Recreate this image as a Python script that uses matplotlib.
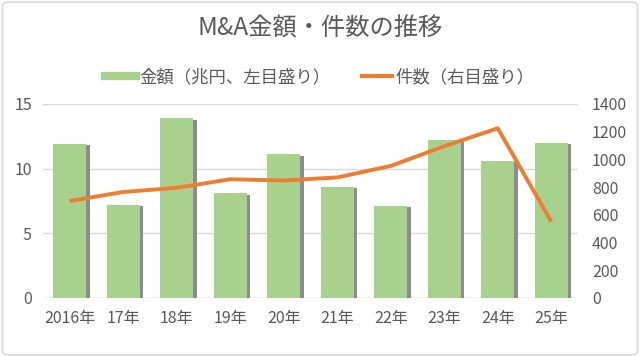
import matplotlib.pyplot as plt
from matplotlib.lines import Line2D
from matplotlib.patches import FancyBboxPatch
import numpy as np

plt.rcParams['font.family'] = ['Noto Sans CJK JP', 'DejaVu Sans']

years = ['2016年', '17年', '18年', '19年', '20年', '21年', '22年', '23年', '24年', '25年']
amount = [11.9, 7.2, 13.9, 8.1, 11.1, 8.6, 7.1, 12.2, 10.6, 12.0]   # 兆円 (left axis)
count = [700, 765, 795, 857, 848, 870, 953, 1095, 1225, 551]        # 件数 (right axis)

green = '#A9D18E'
orange = '#ED7D31'
txt = '#595959'

fig = plt.figure(figsize=(6.4, 3.57), dpi=100)
ax = fig.add_axes([43 / 640, 1 - 298 / 357, 535 / 640, 194 / 357])
ax2 = ax.twinx()

x = np.arange(len(years))
w = 0.62
# bar shadow
ax.bar(x + 0.06, [v - 0.1 for v in amount], w, bottom=0, color='#8C8C8C', zorder=2)
ax.bar(x, amount, w, color=green, zorder=3)
ax2.plot(x, count, color=orange, lw=2.8, solid_capstyle='butt', zorder=4)

ax.set_xlim(-0.5, len(years) - 0.5)
ax.set_ylim(0, 15)
ax2.set_ylim(0, 1400)
ax.set_yticks([0, 5, 10, 15])
ax2.set_yticks(range(0, 1401, 200))
ax.set_xticks(x)
ax.set_xticklabels(years)
ax.yaxis.grid(True, color='#D9D9D9', lw=1, zorder=0)
ax.set_axisbelow(True)
for a in (ax, ax2):
    for s in a.spines.values():
        s.set_visible(False)
    a.tick_params(length=0, labelsize=11.5, colors=txt)
ax.tick_params(axis='x', pad=9)
ax.tick_params(axis='y', pad=8)
ax2.tick_params(axis='y', pad=10)
ax.axhline(0, color='#D9D9D9', lw=1, zorder=1)

fig.text(0.5, 1 - 29 / 357, 'M&A金額・件数の推移', ha='center', va='center',
         fontsize=17.5, color=txt)

handles = [Line2D([], [], color=green, lw=6),
           Line2D([], [], color=orange, lw=3)]
fig.legend(handles, ['金額（兆円、左目盛り）', '件数（右目盛り）'], ncol=2,
           loc='center', bbox_to_anchor=(0.5, 1 - 77 / 357), frameon=False,
           fontsize=12.5, labelcolor=txt, handlelength=1.75, handletextpad=0.2,
           columnspacing=1.8)

fig.patches.append(FancyBboxPatch((0.004, 0.006), 0.992, 0.988,
                                  boxstyle='round,pad=0,rounding_size=0.01',
                                  transform=fig.transFigure, fill=False,
                                  ec='#D9D9D9', lw=1.2))

fig.savefig('out.png', dpi=100)
